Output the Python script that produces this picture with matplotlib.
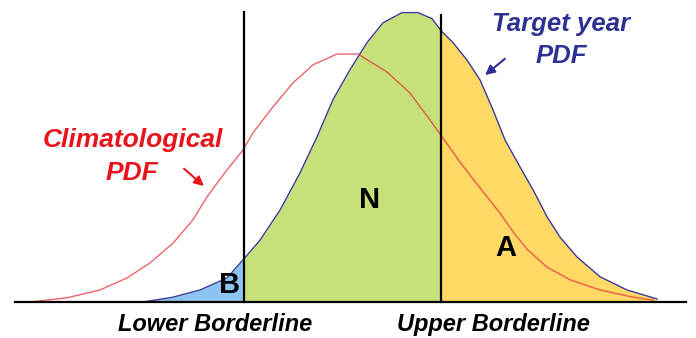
import numpy as np
import matplotlib
matplotlib.use('Agg')
import matplotlib.pyplot as plt

plt.rcParams['font.family'] = ['Liberation Sans', 'DejaVu Sans']

# climatological PDF (anomaly, density)
clim_x = [-3.23, -3.10, -2.73, -2.40, -2.13, -1.90, -1.67, -1.47, -1.33, -1.13,
          -0.97, -0.87, -0.67, -0.47, -0.27, -0.03, 0.18, 0.47, 0.70, 0.90,
          1.03, 1.20, 1.40, 1.60, 1.73, 1.87, 2.07, 2.30, 2.60, 2.93, 3.13]
clim_y = [0.000, 0.000, 0.007, 0.020, 0.040, 0.065, 0.098, 0.137, 0.175, 0.220,
          0.253, 0.282, 0.325, 0.365, 0.395, 0.413, 0.413, 0.383, 0.348, 0.303,
          0.273, 0.233, 0.190, 0.148, 0.117, 0.088, 0.058, 0.037, 0.020, 0.008,
          0.003]

# target year PDF
targ_x = [-1.97, -1.67, -1.40, -1.13, -0.96, -0.80, -0.60, -0.40, -0.23, -0.07,
          0.10, 0.27, 0.43, 0.62, 0.78, 0.92, 1.01, 1.13, 1.27, 1.40,
          1.53, 1.65, 1.80, 1.93, 2.07, 2.20, 2.37, 2.60, 2.87, 3.17]
targ_y = [0.000, 0.008, 0.020, 0.040, 0.072, 0.103, 0.153, 0.215, 0.275, 0.337,
          0.387, 0.432, 0.465, 0.482, 0.482, 0.472, 0.452, 0.432, 0.403, 0.370,
          0.320, 0.270, 0.225, 0.187, 0.142, 0.108, 0.075, 0.042, 0.020, 0.005]

lower_border = -0.96
upper_border = 1.01

tx = np.array(targ_x)
ty = np.array(targ_y)

fig = plt.figure(figsize=(6.96, 3.38), dpi=100)
ax = fig.add_axes([0, 0, 1, 1])
ax.set_xlim(-3.40, 3.56)
ax.set_ylim(-0.06, 0.503)
ax.axis('off')

# shaded categories under the target year curve
ax.fill_between(tx, 0, ty, where=tx <= lower_border, color='#8ec4f0', lw=0)
ax.fill_between(tx, 0, ty, where=(tx >= lower_border) & (tx <= upper_border),
                color='#c6e07a', lw=0)
ax.fill_between(tx, 0, ty, where=tx >= upper_border, color='#ffd966', lw=0)

ax.plot(tx, ty, color='#3b3b9c', lw=1.0, zorder=3)
ax.plot(clim_x, clim_y, color='#e8303a', lw=1.0, alpha=0.75, zorder=4)

# baseline and borderlines
ax.plot([-3.25, 3.46], [0, 0], color='black', lw=1.6, zorder=5)
ax.plot([lower_border, lower_border], [0, 0.483], color='black', lw=1.6, zorder=5)
ax.plot([upper_border, upper_border], [0, 0.478], color='black', lw=1.6, zorder=5)

red = '#e8141c'
navy = '#2e3192'
ax.text(-2.07, 0.270, 'Climatological', color=red, fontsize=19, fontweight='bold',
        fontstyle='italic', ha='center', va='center')
ax.text(-2.08, 0.215, 'PDF', color=red, fontsize=19, fontweight='bold',
        fontstyle='italic', ha='center', va='center')
ax.annotate('', xy=(-1.34, 0.19), xytext=(-1.58, 0.225),
            arrowprops=dict(arrowstyle='-|>', color=red, lw=1.5, mutation_scale=14))

ax.text(2.21, 0.463, 'Target year', color=navy, fontsize=18.5, fontweight='bold',
        fontstyle='italic', ha='center', va='center')
ax.text(2.21, 0.410, 'PDF', color=navy, fontsize=18.5, fontweight='bold',
        fontstyle='italic', ha='center', va='center')
ax.annotate('', xy=(1.43, 0.375), xytext=(1.67, 0.408),
            arrowprops=dict(arrowstyle='-|>', color=navy, lw=1.5, mutation_scale=14))

for s, x, y in [('N', 0.30, 0.17), ('A', 1.66, 0.090), ('B', -1.10, 0.028)]:
    ax.text(x, y, s, color='black', fontsize=21, fontweight='bold',
            ha='center', va='center', zorder=6)

ax.text(-1.25, -0.038, 'Lower Borderline', color='black', fontsize=17,
        fontweight='bold', fontstyle='italic', ha='center', va='center')
ax.text(1.53, -0.038, 'Upper Borderline', color='black', fontsize=17,
        fontweight='bold', fontstyle='italic', ha='center', va='center')

fig.savefig('out.png', dpi=100)
